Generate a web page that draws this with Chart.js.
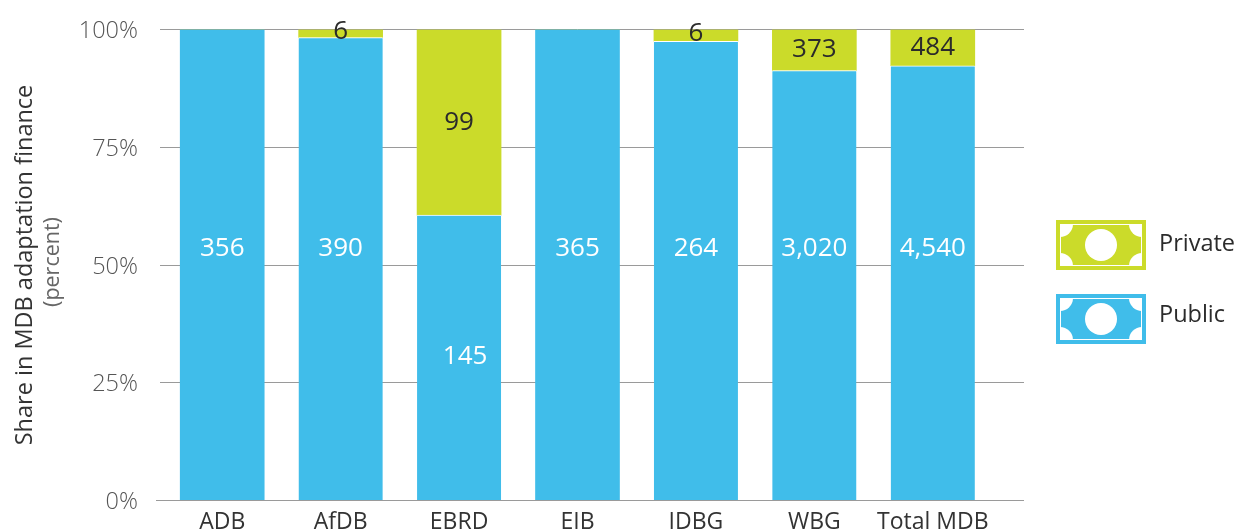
<!DOCTYPE html>
<html>
<head>
<meta charset="utf-8">
<style>html,body{margin:0;padding:0;background:#fff}canvas{display:block}</style>
<script src="https://cdn.jsdelivr.net/npm/chart.js@4"></script>
</head>
<body>
<canvas id="c" width="1237" height="531"></canvas>
<script>
const categories = ['ADB','AfDB','EBRD','EIB','IDBG','WBG','Total MDB'];
const publicShare = [100, 98.3, 60.6, 100, 97.5, 91.3, 92.3];
const privateShare = [0, 1.7, 39.4, 0, 2.5, 8.7, 7.7];
const publicLabels = ['356','390','145','365','264','3,020','4,540'];
const privateLabels = [null,'6','99',null,'6','373','484'];
const legendItems = ['Private','Public'];
const yAxisTitle = 'Share in MDB adaptation finance';
const yAxisSubtitle = '(percent)';

const BLUE = '#40BDEA', GREEN = '#CBDB2A', GRID = '#9a9a9a', FONT = '"Open Sans","Noto Sans",sans-serif';
const GRID_END = 1024;
const align = v => Math.round(v - 0.5) + 0.5;

function drawNote(ctx, x, y, w, h, color) {
  ctx.fillStyle = color; ctx.fillRect(x, y, w, h);
  ctx.fillStyle = '#fff';
  const r = 13;
  [[x+4,y+4],[x+w-4,y+4],[x+4,y+h-4],[x+w-4,y+h-4]].forEach(p => {
    ctx.beginPath(); ctx.arc(p[0], p[1], r, 0, Math.PI*2); ctx.fill();
  });
  ctx.fillStyle = color;
  ctx.fillRect(x, y, w, 4); ctx.fillRect(x, y+h-4, w, 4);
  ctx.fillRect(x, y, 4, h); ctx.fillRect(x+w-4, y, 4, h);
  ctx.fillStyle = '#fff';
  ctx.fillRect(x+4, y+4, w-8, 1); ctx.fillRect(x+4, y+h-5, w-8, 1);
  ctx.fillRect(x+4, y+4, 1, h-8); ctx.fillRect(x+w-5, y+4, 1, h-8);
  ctx.beginPath(); ctx.arc(x+w/2, y+h/2, 16, 0, Math.PI*2); ctx.fill();
}

const overlay = {
  id: 'overlay',
  beforeDatasetsDraw(chart) {
    const {ctx, chartArea, scales:{y}} = chart;
    ctx.save();
    ctx.strokeStyle = GRID; ctx.lineWidth = 1;
    y.ticks.forEach(t => {
      const py = align(y.getPixelForValue(t.value));
      ctx.beginPath(); ctx.moveTo(chartArea.right, py); ctx.lineTo(GRID_END, py); ctx.stroke();
    });
    ctx.restore();
  },
  afterDatasetsDraw(chart) {
    const {ctx, scales:{x, y}} = chart;
    ctx.save();
    // baseline over the bars
    const by = align(y.getPixelForValue(0));
    ctx.strokeStyle = GRID; ctx.lineWidth = 1;
    ctx.beginPath(); ctx.moveTo(156, by); ctx.lineTo(GRID_END, by); ctx.stroke();

    // value labels
    ctx.textAlign = 'center'; ctx.textBaseline = 'middle';
    ctx.font = '26px ' + FONT;
    categories.forEach((c, i) => {
      const cx = x.getPixelForValue(i);
      const pub = publicShare[i];
      const py = y.getPixelForValue(pub > 75 ? 53.5 : pub / 2);
      ctx.fillStyle = '#fff';
      ctx.fillText(publicLabels[i], cx + (pub > 75 ? 0 : 6), py - (pub > 75 ? 0 : 1));
      if (privateLabels[i]) {
        ctx.fillStyle = '#2b2b2b';
        ctx.fillText(privateLabels[i], cx, y.getPixelForValue(pub + privateShare[i] / 2) - (privateShare[i] < 5 ? 2 : 0));
      }
    });

    // subtitle of the value axis
    ctx.save();
    ctx.translate(53, 262); ctx.rotate(-Math.PI/2);
    ctx.fillStyle = '#666'; ctx.font = '21.5px ' + FONT;
    ctx.fillText(yAxisSubtitle, 0, 0);
    ctx.restore();

    // legend
    const rows = [[220, GREEN, 244], [294, BLUE, 315]];
    legendItems.forEach((t, i) => {
      drawNote(ctx, 1056, rows[i][0], 90, 50, rows[i][1]);
      ctx.fillStyle = '#2b2b2b'; ctx.textAlign = 'left'; ctx.font = '23.5px ' + FONT;
      ctx.fillText(t, 1159, rows[i][2]);
    });
    ctx.restore();
  }
};

new Chart(document.getElementById('c'), {
  type: 'bar',
  plugins: [overlay],
  data: {
    labels: categories,
    datasets: [
      {label:'Public', data: publicShare, backgroundColor: BLUE, borderColor:'#fff',
       borderWidth: c => ({top: privateShare[c.dataIndex] > 0 ? 1 : 0, right:0, bottom:0, left:0}),
       barThickness:84, borderSkipped:false},
      {label:'Private', data: privateShare, backgroundColor: GREEN, borderWidth:0, barThickness:84}
    ]
  },
  options: {
    responsive:false, animation:false,
    layout:{padding:{top:29.5,right:245,left:0,bottom:0}},
    plugins:{legend:{display:false}, tooltip:{enabled:false}},
    scales:{
      x:{
        stacked:true,
        grid:{display:false, drawTicks:false},
        border:{display:false},
        ticks:{color:'#333', font:{family:FONT,size:23}, padding:8, maxRotation:0, autoSkip:false},
        afterFit(s){ s.height = 30.5; s.paddingLeft = 0; s.paddingRight = 0; }
      },
      y:{
        stacked:true, min:0, max:100,
        grid:{color:GRID, lineWidth:1, tickLength:3},
        border:{display:false},
        ticks:{stepSize:25, color:'#555', font:{family:FONT,size:23.5,weight:'300'}, padding:22, labelOffset:2, callback:v=>v+'%'},
        title:{display:true, text:yAxisTitle, color:'#333', font:{family:FONT,size:23.5}, padding:{top:11,bottom:0}},
        afterFit(s){ s.width = 163; s.paddingTop = 0; s.paddingBottom = 0; }
      }
    }
  }
});
</script>
</body>
</html>
